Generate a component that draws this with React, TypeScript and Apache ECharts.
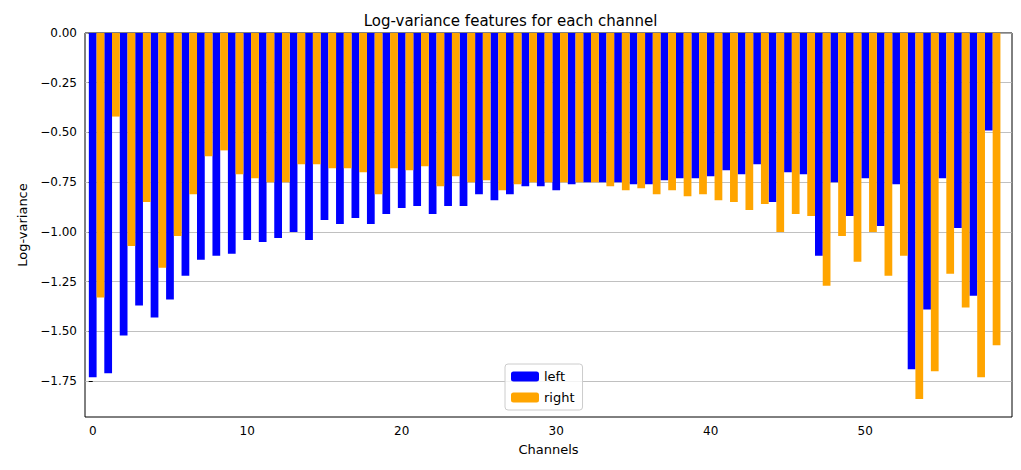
import { useEffect, useRef } from 'react';
import * as echarts from 'echarts';

const channels = Array.from({ length: 59 }, (_, i) => i);

const leftValues = [
  -1.73, -1.71, -1.52, -1.37, -1.43, -1.34, -1.22, -1.14, -1.12, -1.11,
  -1.04, -1.05, -1.03, -1.0, -1.04, -0.94, -0.96, -0.93, -0.96, -0.91,
  -0.88, -0.87, -0.91, -0.87, -0.87, -0.81, -0.84, -0.81, -0.77, -0.77,
  -0.79, -0.76, -0.75, -0.75, -0.75, -0.76, -0.76, -0.74, -0.73, -0.73,
  -0.72, -0.69, -0.71, -0.66, -0.85, -0.7, -0.71, -1.12, -0.75, -0.92,
  -0.73, -0.97, -0.76, -1.69, -1.39, -0.73, -0.98, -1.32, -0.49,
];

const rightValues = [
  -1.33, -0.42, -1.07, -0.85, -1.18, -1.02, -0.81, -0.62, -0.59, -0.71,
  -0.73, -0.75, -0.75, -0.66, -0.66, -0.68, -0.68, -0.7, -0.81, -0.68,
  -0.69, -0.67, -0.77, -0.72, -0.75, -0.74, -0.79, -0.76, -0.75, -0.75,
  -0.75, -0.75, -0.75, -0.77, -0.79, -0.78, -0.81, -0.79, -0.82, -0.81,
  -0.84, -0.85, -0.89, -0.86, -1.0, -0.91, -0.92, -1.27, -1.02, -1.15,
  -1.0, -1.22, -1.12, -1.84, -1.7, -1.21, -1.38, -1.73, -1.57,
];

const yTicks = [0, -0.25, -0.5, -0.75, -1.0, -1.25, -1.5, -1.75];
const xTicks = [0, 10, 20, 30, 40, 50];

export default function App() {
  const chartRef = useRef<HTMLDivElement>(null);

  useEffect(() => {
    if (!chartRef.current) return;
    const chart = echarts.init(chartRef.current, null, { renderer: 'svg' });
    const font = 'DejaVu Sans';

    chart.setOption({
      animation: false,
      textStyle: { fontFamily: font },
      title: {
        text: 'Log-variance features for each channel',
        left: 'center',
        top: 0,
        textStyle: { fontFamily: font, fontSize: 15, fontWeight: 'normal', color: '#000' },
      },
      legend: {
        orient: 'vertical',
        left: 497,
        top: 356,
        itemWidth: 28,
        itemHeight: 10,
        itemGap: 8,
        padding: [6, 8, 6, 6],
        borderColor: '#ccc',
        borderWidth: 1,
        borderRadius: 3,
        backgroundColor: 'rgba(255,255,255,0.8)',
        textStyle: { fontFamily: font, fontSize: 13, color: '#000' },
        data: ['left', 'right'],
      },
      grid: {
        left: 73,
        right: 1,
        top: 25,
        bottom: 45,
        show: true,
        borderColor: '#000',
        borderWidth: 1,
      },
      xAxis: {
        type: 'value',
        min: -0.5,
        max: 59.5,
        name: 'Channels',
        nameLocation: 'middle',
        nameGap: 26,
        nameTextStyle: { fontFamily: font, fontSize: 13, color: '#000' },
        axisLine: { show: false },
        axisTick: { show: true, customValues: xTicks, length: 4, lineStyle: { color: '#000' } },
        axisLabel: { customValues: xTicks, fontFamily: font, fontSize: 12, color: '#000' },
        splitLine: { show: false },
      },
      yAxis: {
        type: 'value',
        min: -1.93,
        max: 0,
        name: 'Log-variance',
        nameLocation: 'middle',
        nameGap: 56,
        nameTextStyle: { fontFamily: font, fontSize: 13, color: '#000' },
        axisLine: { show: false },
        axisTick: { show: true, customValues: yTicks, length: 4, lineStyle: { color: '#000' } },
        axisLabel: {
          customValues: yTicks,
          fontFamily: font,
          fontSize: 12,
          color: '#000',
          formatter: (v: number) => (v < 0 ? '\u2212' + Math.abs(v).toFixed(2) : v.toFixed(2)),
        },
        splitLine: { show: true, lineStyle: { color: '#b0b0b0', width: 0.8 } },
      },
      series: [
        {
          name: 'left',
          type: 'bar',
          barWidth: 7.75,
          itemStyle: { color: '#0000ff' },
          data: channels.map((c, i) => [c, leftValues[i]]),
        },
        {
          name: 'right',
          type: 'bar',
          barWidth: 7.75,
          barGap: '-100%',
          itemStyle: { color: '#ffa500' },
          data: channels.map((c, i) => [c + 0.5, rightValues[i]]),
        },
      ],
    });

    return () => chart.dispose();
  }, []);

  return <div ref={chartRef} style={{ width: 1005, height: 454 }} />;
}
